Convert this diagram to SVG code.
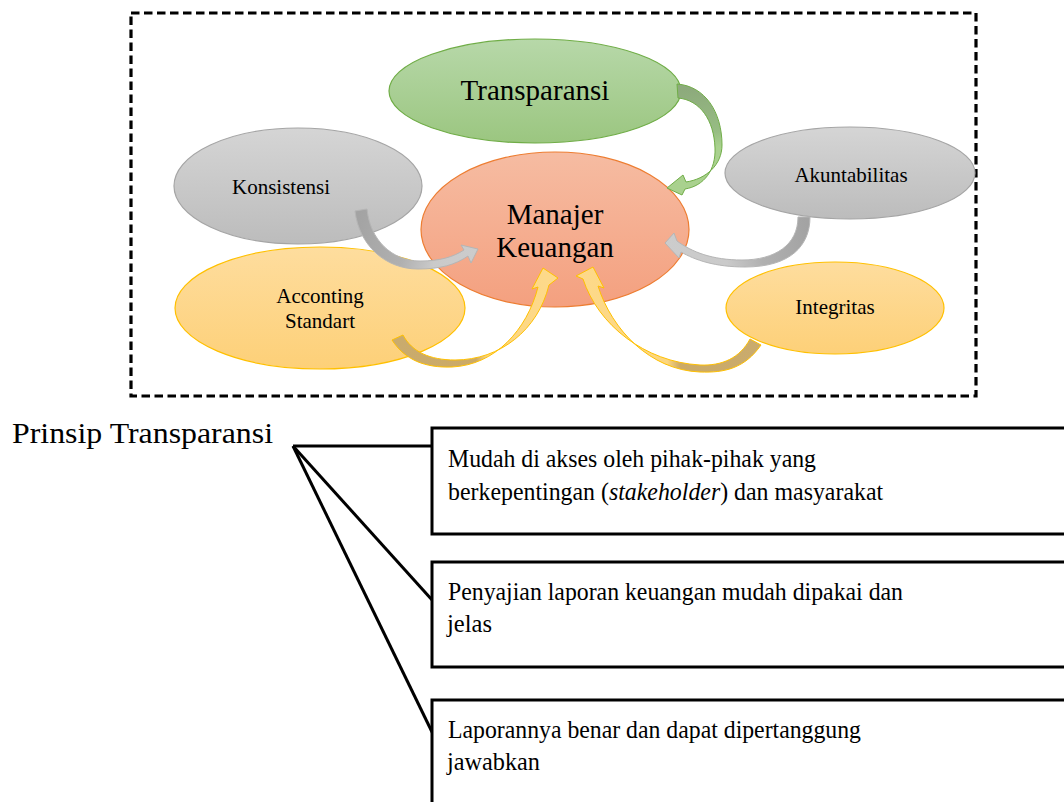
<svg xmlns="http://www.w3.org/2000/svg" width="1064" height="802" viewBox="0 0 1064 802">
<defs>
<linearGradient id="gGreen" x1="0" y1="0" x2="0" y2="1"><stop offset="0" stop-color="#b7d8a9"/><stop offset="1" stop-color="#9bc680"/></linearGradient>
<linearGradient id="gOrange" x1="0" y1="0" x2="0" y2="1"><stop offset="0" stop-color="#f6bca2"/><stop offset="1" stop-color="#f4a07f"/></linearGradient>
<linearGradient id="gGray" x1="0" y1="0" x2="0" y2="1"><stop offset="0" stop-color="#d5d5d5"/><stop offset="1" stop-color="#bcbcbc"/></linearGradient>
<linearGradient id="gYellow" x1="0" y1="0" x2="0" y2="1"><stop offset="0" stop-color="#fedd9e"/><stop offset="1" stop-color="#fdd078"/></linearGradient>
<linearGradient id="aGreen" gradientUnits="userSpaceOnUse" x1="680" y1="90" x2="690" y2="190"><stop offset="0" stop-color="#8daa7c"/><stop offset="0.45" stop-color="#97bd83"/><stop offset="0.6" stop-color="#a9d18e"/><stop offset="1" stop-color="#a9d18e"/></linearGradient>
<linearGradient id="aGrayL" gradientUnits="userSpaceOnUse" x1="360" y1="210" x2="478" y2="250"><stop offset="0" stop-color="#a3a3a3"/><stop offset="0.45" stop-color="#b0b0b0"/><stop offset="0.7" stop-color="#cacaca"/><stop offset="1" stop-color="#cccccc"/></linearGradient>
<linearGradient id="aGrayR" gradientUnits="userSpaceOnUse" x1="805" y1="217" x2="665" y2="245"><stop offset="0" stop-color="#a3a3a3"/><stop offset="0.35" stop-color="#b0b0b0"/><stop offset="0.6" stop-color="#cacaca"/><stop offset="1" stop-color="#cccccc"/></linearGradient>
<linearGradient id="aYelL" gradientUnits="userSpaceOnUse" x1="392" y1="0" x2="545" y2="0"><stop offset="0" stop-color="#c9ab6e"/><stop offset="0.55" stop-color="#ccaa66"/><stop offset="0.62" stop-color="#fcd67e"/><stop offset="1" stop-color="#fdd98a"/></linearGradient>
<linearGradient id="aYelR" gradientUnits="userSpaceOnUse" x1="762" y1="0" x2="580" y2="0"><stop offset="0" stop-color="#c9ab6e"/><stop offset="0.45" stop-color="#ccaa66"/><stop offset="0.52" stop-color="#fcd67e"/><stop offset="1" stop-color="#fdd98a"/></linearGradient>
</defs>
<style>
.lbl{font-family:"Liberation Serif","Times New Roman",serif;fill:#000;text-anchor:middle}
.sm{font-size:21px}
.lg{font-size:29px}
.tx{font-family:"Liberation Serif","Times New Roman",serif;font-size:26px;fill:#000}
.box{fill:#fff;stroke:#000;stroke-width:3}
.line{stroke:#000;stroke-width:3;fill:none}
</style>
<rect x="131" y="13" width="845" height="383" fill="none" stroke="#000" stroke-width="3.2" stroke-dasharray="8.5 4.5"/>

<g id="node-transparansi">
<ellipse cx="535" cy="91" rx="146" ry="52" fill="url(#gGreen)" stroke="#70ad47" stroke-width="1.2"/>
<text class="lbl lg" x="535" y="100">Transparansi</text>
</g>
<g id="node-konsistensi">
<ellipse cx="298" cy="186" rx="124" ry="58" fill="url(#gGray)" stroke="#a5a5a5" stroke-width="1.2"/>
<text class="lbl sm" x="281" y="194">Konsistensi</text>
</g>
<g id="node-akuntabilitas">
<ellipse cx="850" cy="173" rx="125" ry="46" fill="url(#gGray)" stroke="#a5a5a5" stroke-width="1.2"/>
<text class="lbl sm" x="851" y="182">Akuntabilitas</text>
</g>
<g id="node-accounting">
<ellipse cx="320" cy="308" rx="145" ry="61" fill="url(#gYellow)" stroke="#ffc000" stroke-width="1.2"/>
<text class="lbl sm" x="320" y="303">Acconting</text>
<text class="lbl sm" x="320" y="328">Standart</text>
</g>
<g id="node-integritas">
<ellipse cx="835" cy="308" rx="109" ry="46" fill="url(#gYellow)" stroke="#ffc000" stroke-width="1.2"/>
<text class="lbl sm" x="835" y="314">Integritas</text>
</g>
<g id="node-manajer">
<ellipse cx="555" cy="229.5" rx="134" ry="77.5" fill="url(#gOrange)" stroke="#ed7d31" stroke-width="1.2"/>
<text class="lbl lg" x="555" y="224">Manajer</text>
<text class="lbl lg" x="555" y="257">Keuangan</text>
</g>

<g id="connectors">
<path d="M677,84 C705,86 722,112 722,145 C722,165 706,179 686,182 L683,175 L667,188 L682,195 L685,189 C704,186 716,170 715,148 C714,120 700,100 678,98 Z" fill="url(#aGreen)" stroke="#70ad47" stroke-width="1"/>
<path d="M355,211 L367,209 C370,240 392,261 420,261 C440,261 453,257 464,250 L461,245 L478,249 L471,263 L468,256 C455,265 440,269 418,269 C385,269 359,245 355,211 Z" fill="url(#aGrayL)" stroke="#b5b5b5" stroke-width="1"/>
<path d="M798,217 L810,217 C810,246 790,267 745,267 C715,267 695,260 681,252 L679,258 L665,243 L674,233 L677,241 C692,252 712,260 742,260 C775,260 798,245 798,217 Z" fill="url(#aGrayR)" stroke="#b5b5b5" stroke-width="1"/>
<path d="M392,340 C405,360 425,368 452,367 C495,365 527,330 538,287 L532,289 L543,268 L558,278 L549,285 C538,330 500,360 455,360 C430,360 412,352 403,335 Z" fill="url(#aYelL)" stroke="#ffc000" stroke-width="1"/>
<path d="M761,345 C745,368 725,373 700,372 C650,370 612,330 598,286 L604,288 L593,267 L576,276 L583,279 C598,325 645,362 700,365 C722,366 740,358 750,339 Z" fill="url(#aYelR)" stroke="#ffc000" stroke-width="1"/>
</g>

<g id="node-prinsip">
<text class="tx" x="12" y="443" style="font-size:30px" textLength="261" lengthAdjust="spacingAndGlyphs">Prinsip Transparansi</text>
</g>
<g id="branch-lines">
<line class="line" x1="293" y1="446" x2="433" y2="446"/>
<line class="line" x1="293" y1="446" x2="433" y2="601"/>
<line class="line" x1="293" y1="446" x2="433" y2="734"/>
</g>
<g id="box1">
<rect class="box" x="432" y="428" width="700" height="106"/>
<text class="tx" x="448" y="467" textLength="368" lengthAdjust="spacingAndGlyphs">Mudah di akses oleh pihak-pihak yang</text>
<text class="tx" transform="translate(448,500) scale(0.918,1)" x="0" y="0">berkepentingan (<tspan font-style="italic">stakeholder</tspan>) dan masyarakat</text>
</g>
<g id="box2">
<rect class="box" x="432" y="562" width="700" height="105"/>
<text class="tx" x="448" y="600" textLength="455" lengthAdjust="spacingAndGlyphs">Penyajian laporan keuangan mudah dipakai dan</text>
<text class="tx" x="447" y="632" textLength="45" lengthAdjust="spacingAndGlyphs">jelas</text>
</g>
<g id="box3">
<rect class="box" x="432" y="700" width="700" height="140"/>
<text class="tx" x="448" y="738" textLength="413" lengthAdjust="spacingAndGlyphs">Laporannya benar dan dapat dipertanggung</text>
<text class="tx" x="447" y="770" textLength="93" lengthAdjust="spacingAndGlyphs">jawabkan</text>
</g>
</svg>
